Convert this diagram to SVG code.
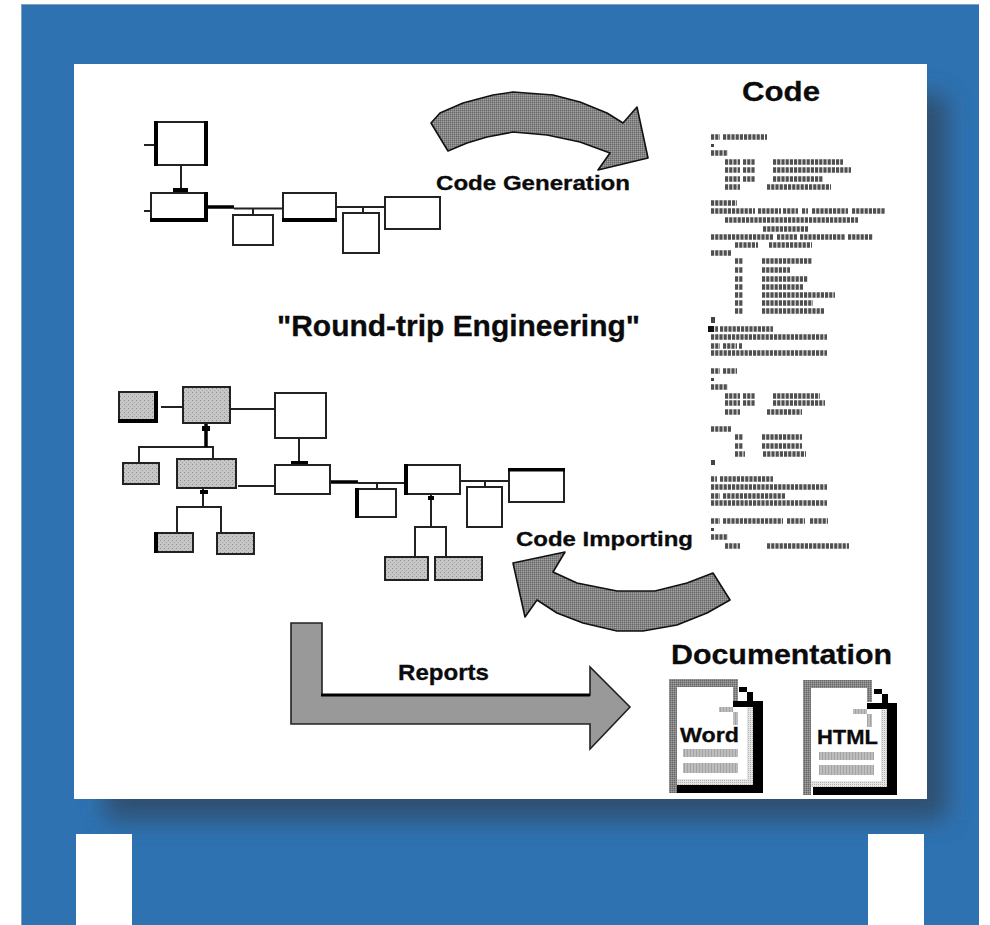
<svg xmlns="http://www.w3.org/2000/svg" width="990" height="925" viewBox="0 0 990 925">
<style>
.b{fill:#fff;stroke:#222;stroke-width:2}
.g{fill:url(#stip);stroke:#222;stroke-width:2}
.th{fill:#000}
.l{fill:none;stroke:#222;stroke-width:2}
.tl{fill:none;stroke:#000;stroke-width:3.5}
.arr{fill:url(#check);stroke:#111;stroke-width:1.6;stroke-linejoin:round}
.code{fill:none;stroke:#505050;stroke-width:5.5;stroke-dasharray:3.2 1}
.txt{font-family:"Liberation Sans",Arial,sans-serif;font-weight:700;fill:#0b0b0b;stroke:#0b0b0b;stroke-width:.3}
.gr{fill:url(#check)}
.st{fill:url(#lite)}
.gl{fill:url(#lines)}
</style>
<defs>
<pattern id="stip" width="4" height="4" patternUnits="userSpaceOnUse"><rect width="4" height="4" fill="#c6c6c6"/><rect x="0" y="0" width="1" height="1" fill="#8f8f8f"/><rect x="2" y="2" width="1" height="1" fill="#a5a5a5"/></pattern>
<pattern id="check" width="2" height="2" patternUnits="userSpaceOnUse"><rect width="2" height="2" fill="#858585"/><rect width="1" height="1" fill="#666"/><rect x="1" y="1" width="1" height="1" fill="#a0a0a0"/></pattern>
<pattern id="lite" width="2" height="2" patternUnits="userSpaceOnUse"><rect width="2" height="2" fill="#e4e4e4"/><rect width="1" height="1" fill="#b4b4b4"/></pattern>
<pattern id="lines" width="3" height="3" patternUnits="userSpaceOnUse"><rect width="3" height="3" fill="#bdbdbd"/><rect width="1" height="3" fill="#a4a4a4"/></pattern>
<filter id="blur" x="-10%" y="-10%" width="120%" height="120%"><feGaussianBlur stdDeviation="12"/></filter>
<clipPath id="bl"><rect x="21" y="4" width="958" height="921"/></clipPath>
</defs>
<rect width="990" height="925" fill="#fff"/>
<g id="background">
<rect x="21" y="4" width="958" height="921" fill="#2e72b2"/>
<rect x="21" y="4" width="958" height="1" fill="#7f9fbd"/>
<rect x="21" y="4" width="1" height="921" fill="#7f9fbd"/>
<g clip-path="url(#bl)"><rect x="105" y="95" width="842" height="725" fill="#2f4f6f" filter="url(#blur)"/></g>
<rect x="74" y="64" width="853" height="735" fill="#fff"/>
<rect x="76" y="834" width="56" height="91" fill="#fff"/>
<rect x="868" y="834" width="56" height="91" fill="#fff"/>
</g>

<g id="connectors">
<path class="l" d="M144 145h11M181 165v24M144 211h7M234 208.500h49M253 209v6M336 207h49M363 207v6"/>
<path class="tl" d="M207 207h27"/>
<rect class="th" x="173" y="188" width="15" height="5"/>
<path class="l" d="M161 407h22M230 409h45M299 438v24M238 486h37M358 483h47M377 483v6M460 481h49M485 481v6M431 494v33M415 557v-30h31v30M139 463v-16h74v12M203 488v19M177 533v-26h44v26"/>
<path class="tl" d="M206 423v24M330 482h28"/>
<rect class="th" x="291" y="461" width="17" height="5"/>
<rect class="th" x="202" y="426" width="8" height="5"/>
<rect class="th" x="200" y="490" width="8" height="4"/>
<rect class="th" x="428" y="496" width="6" height="4"/>
</g>

<g id="box-a"><rect class="b" x="155" y="122" width="52" height="43"/><path class="th" d="M154 121h4v45h-4zM204 121h4v45h-4z"/></g>
<g id="box-b"><rect class="b" x="151" y="193" width="56" height="28"/><path class="th" d="M150 218h58v4h-58zM204 192h4v30h-4z"/></g>
<g id="box-c"><rect class="b" x="233" y="215" width="40" height="30"/></g>
<g id="box-d"><rect class="b" x="283" y="193" width="53" height="28"/><path class="th" d="M282 218h55v4h-55z"/></g>
<g id="box-e"><rect class="b" x="343" y="213" width="36" height="40"/></g>
<g id="box-f"><rect class="b" x="385" y="197" width="55" height="32"/></g>

<g id="gray-1"><rect class="g" x="119" y="392" width="38" height="30"/><path class="th" d="M154 391h4v32h-4zM118 419h40v4h-40z"/></g>
<g id="gray-2"><rect class="g" x="183" y="387" width="47" height="36"/></g>
<g id="gray-3"><rect class="g" x="177" y="459" width="59" height="29"/></g>
<g id="gray-4"><rect class="g" x="123" y="463" width="36" height="21"/></g>
<g id="gray-5"><rect class="g" x="155" y="533" width="38" height="19"/><path class="th" d="M154 532h4v21h-4z"/></g>
<g id="gray-6"><rect class="g" x="217" y="533" width="37" height="21"/></g>
<g id="gray-7"><rect class="g" x="385" y="557" width="43" height="23"/></g>
<g id="gray-8"><rect class="g" x="435" y="557" width="47" height="23"/></g>
<g id="box-3"><rect class="b" x="275" y="393" width="51" height="45"/></g>
<g id="box-4"><rect class="b" x="275" y="465" width="55" height="29"/></g>
<g id="box-5"><rect class="b" x="356" y="489" width="40" height="28"/><path class="th" d="M355 488h4v30h-4z"/></g>
<g id="box-6"><rect class="b" x="405" y="465" width="55" height="29"/><path class="th" d="M404 464h4v31h-4z"/></g>
<g id="box-7"><rect class="b" x="467" y="487" width="35" height="40"/></g>
<g id="box-8"><rect class="b" x="509" y="469" width="55" height="33"/><path class="th" d="M508 468h57v3.500h-57z"/></g>

<g id="arrow-generation"><path class="arr" d="M431 123L440 113L463 103L493 95L513 92L553 95L580 102L607 113L623 123L637 107L648 158L598 170L610 153L580 142L547 135L513 132L487 137L467 143L448 151Z"/></g>
<g id="arrow-importing"><path class="arr" d="M513 563L565 552L553 572L577 583L617 591L655 591L687 583L713 573L730 600L707 613L677 625L643 631L617 631L583 623L557 613L537 600L525 617Z"/></g>
<g id="arrow-reports"><path fill="#999" stroke="#222" stroke-width="1.600" d="M291 623H322V695H590V667L630 707L590 749V724H291Z"/><path class="th" d="M321 693.500h269v3h-269z"/></g>

<g id="code-listing"><path class="code" d="M711 137h9M723 137h44M711 153h17M725 162h15M743 162h12M773 162h70M725 170h15M743 170h12M773 170h78M725 179h15M743 179h12M773 179h50M725 187h15M767 187h64M711 203h26M711 211h44M758 211h23M783 211h15M802 211h6M812 211h20M833 211h15M852 211h33M725 220h133M763 229h45M711 237h63M777 237h21M800 237h32M833 237h12M848 237h25M735 245h23M769 245h43M711 253h20M735 261h8M762 261h50M735 270h8M762 270h28M735 279h8M762 279h46M735 287h8M762 287h41M735 295h8M762 295h73M735 303h8M762 303h51M735 311h8M762 311h63M711 329h7M720 329h53M711 337h116M711 346h9M723 346h14M739 346h3M711 353h116M711 371h9M723 371h14M711 387h17M725 396h15M743 396h12M773 396h47M725 403h15M743 403h12M773 403h52M725 412h15M767 412h35M711 429h20M735 437h8M762 437h40M735 446h8M762 446h40M735 454h10M763 454h43M711 479h6M720 479h53M711 487h116M711 496h9M723 496h63M711 503h116M711 521h9M723 521h60M787 521h18M810 521h18M711 537h17M725 546h15M767 546h82"/>
<path fill="#444" d="M711 144h3v3h-3zM711 378h3v3h-3zM711 528h3v3h-3zM711 317h4v6h-4zM711 460h4v5h-4z"/><rect x="708" y="326" width="6" height="6" fill="#111"/></g>

<g id="doc-word">
<rect x="669" y="679" width="69" height="8" class="gr"/><rect x="669" y="679" width="8" height="114" class="gr"/><rect x="733" y="687" width="5" height="14" class="gr"/>
<path class="th" d="M677 785h86v8h-86zM753 701h10v84h-10zM733 701h20v6h-20zM739 687h8v5h-8zM747 692h6v9h-6z"/>
<rect x="747" y="707" width="6" height="78" class="st"/><rect x="677" y="779" width="70" height="6" class="st"/>
<rect x="719" y="707" width="14" height="5" class="gl"/><rect x="733" y="712" width="5" height="13" class="gl"/>
<rect x="683" y="749" width="55" height="8" class="gl"/><rect x="683" y="763" width="55" height="10" class="gl"/>
<text class="txt" x="680" y="742" font-size="21" textLength="59" lengthAdjust="spacingAndGlyphs">Word</text>
</g>
<g id="doc-html">
<rect x="803" y="680" width="69" height="8" class="gr"/><rect x="803" y="680" width="8" height="115" class="gr"/><rect x="867" y="688" width="5" height="14" class="gr"/>
<path class="th" d="M813 787h84v8h-84zM887 703h10v84h-10zM867 703h20v6h-20zM874 689h8v5h-8zM882 694h6v9h-6z"/>
<rect x="881" y="709" width="6" height="78" class="st"/><rect x="811" y="781" width="70" height="6" class="st"/>
<rect x="853" y="709" width="14" height="5" class="gl"/><rect x="867" y="714" width="5" height="13" class="gl"/>
<rect x="819" y="752" width="55" height="8" class="gl"/><rect x="819" y="765" width="55" height="10" class="gl"/>
<text class="txt" x="817" y="744" font-size="21" textLength="61" lengthAdjust="spacingAndGlyphs">HTML</text>
</g>

<g id="labels">
<text class="txt" x="742" y="101" font-size="28" textLength="78" lengthAdjust="spacingAndGlyphs">Code</text>
<text class="txt" x="436" y="190" font-size="20" textLength="194" lengthAdjust="spacingAndGlyphs">Code Generation</text>
<text class="txt" x="277" y="336" font-size="29" textLength="363" lengthAdjust="spacingAndGlyphs">"Round-trip Engineering"</text>
<text class="txt" x="516" y="546" font-size="20" textLength="177" lengthAdjust="spacingAndGlyphs">Code Importing</text>
<text class="txt" x="398" y="680" font-size="22" textLength="91" lengthAdjust="spacingAndGlyphs">Reports</text>
<text class="txt" x="671" y="664" font-size="28" textLength="221" lengthAdjust="spacingAndGlyphs">Documentation</text>
</g>
</svg>
